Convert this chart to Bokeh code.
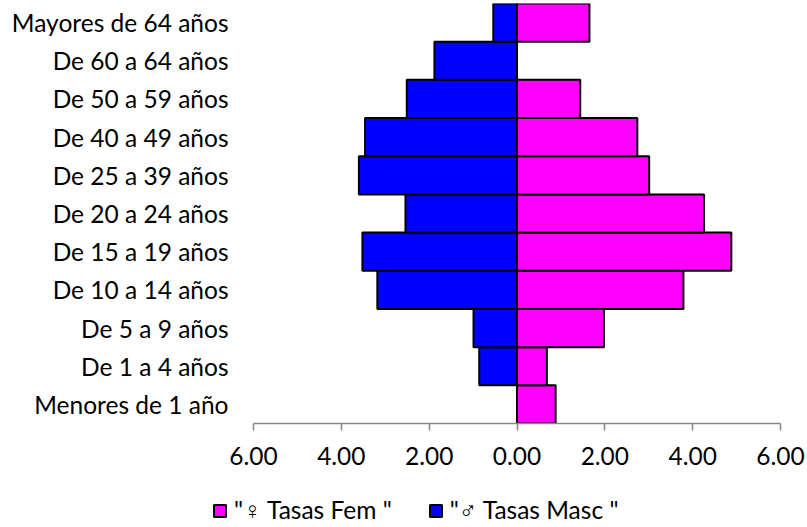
from bokeh.plotting import figure
from bokeh.layouts import column
from bokeh.models import (Range1d, FactorRange, FixedTicker, CustomJSTickFormatter,
                          Legend, LegendItem, ColumnDataSource)
from bokeh.embed import file_html
from bokeh.resources import INLINE

# Data (bottom to top)
categories = ["Menores de 1 año", "De 1 a 4 años", "De 5 a 9 años", "De 10 a 14 años",
              "De 15 a 19 años", "De 20 a 24 años", "De 25 a 39 años", "De 40 a 49 años",
              "De 50 a 59 años", "De 60 a 64 años", "Mayores de 64 años"]
fem = [0.88, 0.68, 1.98, 3.79, 4.88, 4.26, 3.01, 2.74, 1.44, 0.00, 1.65]
masc = [0.00, 0.86, 0.99, 3.18, 3.52, 2.54, 3.60, 3.46, 2.51, 1.88, 0.54]
x_ticks = [-6, -4, -2, 0, 2, 4, 6]
fem_label = '"♀ Tasas Fem "'
masc_label = '"♂ Tasas Masc "'

FONT = "Lato"
FS = "24.5px"
FEM_COLOR = "#FF00FF"
MASC_COLOR = "#0000FF"

# frame spans x from 212px to 780px; the -6..6 scale runs over 253..780
X_MAX = 6
X_MIN_VIEW = -6 - (253 - 212) / ((780 - 253) / 12)

src = ColumnDataSource(dict(cat=categories, fem=fem,
                            masc_neg=[-v for v in masc], zero=[0] * len(categories)))

p = figure(width=807, height=475, output_backend="svg", toolbar_location=None,
           x_range=Range1d(X_MIN_VIEW, X_MAX),
           y_range=FactorRange(factors=categories, range_padding=0),
           min_border_left=212, min_border_right=27, min_border_top=3, min_border_bottom=52)

p.hbar(y="cat", left="masc_neg", right="zero", height=1.0, source=src,
       fill_color=MASC_COLOR, line_color="black", line_width=2)
p.hbar(y="cat", left="zero", right="fem", height=1.0, source=src,
       fill_color=FEM_COLOR, line_color="black", line_width=2)

p.outline_line_color = None
p.xgrid.grid_line_color = None
p.ygrid.grid_line_color = None
p.background_fill_color = "white"
p.border_fill_color = "white"

xa = p.xaxis[0]
xa.bounds = (x_ticks[0], x_ticks[-1])
xa.ticker = FixedTicker(ticks=x_ticks)
xa.formatter = CustomJSTickFormatter(code="return Math.abs(tick).toFixed(2);")
xa.axis_line_color = "#868686"
xa.axis_line_width = 1.5
xa.major_tick_line_color = "#868686"
xa.major_tick_line_width = 1.5
xa.major_tick_out = 7
xa.major_tick_in = 0
xa.minor_tick_line_color = None
xa.major_label_text_font = FONT
xa.major_label_text_font_size = FS
xa.major_label_text_color = "black"
xa.major_label_standoff = 16

ya = p.yaxis[0]
ya.axis_line_color = None
ya.major_tick_line_color = None
ya.major_tick_out = 0
ya.major_tick_in = 0
ya.minor_tick_line_color = None
ya.major_label_text_font = FONT
ya.major_label_text_font_size = FS
ya.major_label_text_color = "black"
ya.major_label_standoff = -16

# Legend strip below the chart (its renderers are hidden; only the legend shows)
lg = figure(width=807, height=52, output_backend="svg", toolbar_location=None,
            x_range=Range1d(X_MIN_VIEW, X_MAX), y_range=FactorRange(factors=categories),
            min_border=0, outline_line_color=None)
lg.axis.visible = False
lg.grid.visible = False
lm = lg.hbar(y="cat", left="masc_neg", right="zero", height=1.0, source=src,
             fill_color=MASC_COLOR, line_color="black", line_width=2, visible=False)
lf = lg.hbar(y="cat", left="zero", right="fem", height=1.0, source=src,
             fill_color=FEM_COLOR, line_color="black", line_width=2, visible=False)

legend = Legend(items=[LegendItem(label=fem_label, renderers=[lf]),
                       LegendItem(label=masc_label, renderers=[lm])],
                orientation="horizontal", location=(0, 2),
                label_text_font=FONT, label_text_font_size=FS, label_text_color="black",
                glyph_width=15, glyph_height=15, label_standoff=7, spacing=36,
                padding=0, margin=0, border_line_color=None, background_fill_alpha=0)
lg.add_layout(legend, "center")

layout = column(p, lg, spacing=0)
open("out.html", "w").write(file_html(layout, INLINE))
